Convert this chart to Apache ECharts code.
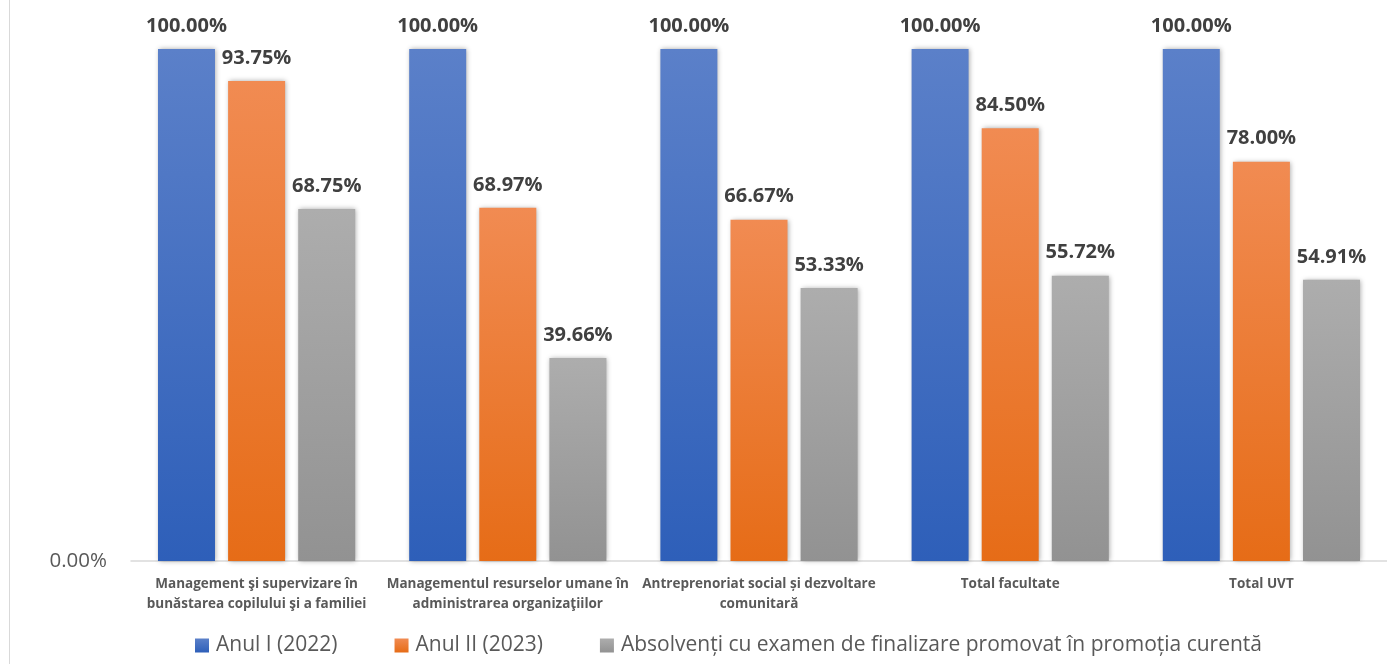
<!DOCTYPE html>
<html><head><meta charset="utf-8">
<script src="https://cdn.jsdelivr.net/npm/echarts@6/dist/echarts.min.js"></script>
<style>html,body{margin:0;padding:0;background:#fff}#c{width:1387px;height:664px}</style>
</head><body><div id="c"></div>
<script>
const categories = [
  "Management şi supervizare în\nbunăstarea copilului şi a familiei",
  "Managementul resurselor umane în\nadministrarea organizaţiilor",
  "Antreprenoriat social și dezvoltare\ncomunitară",
  "Total facultate",
  "Total UVT"
];
const seriesNames = ["Anul I (2022)", "Anul II (2023)", "Absolvenți cu examen de finalizare promovat în promoția curentă"];
const anulI = [100, 100, 100, 100, 100];
const anulII = [93.75, 68.97, 66.67, 84.50, 78.00];
const absolventi = [68.75, 39.66, 53.33, 55.72, 54.91];
const yTicks = [0, 100];

const grads = [
  ['#5b80c9', '#2e5fb9'],
  ['#f18b52', '#e66c17'],
  ['#adadad', '#929292']
];
function grad(c){ return new echarts.graphic.LinearGradient(0,0,0,1,[{offset:0,color:c[0]},{offset:1,color:c[1]}]); }
const font = '"Open Sans", sans-serif';
function mk(name, data, i){
  return {
    name, type:'bar', data, barWidth:57, barGap:'23%',
    itemStyle:{color:grad(grads[i]), shadowBlur:5, shadowColor:'rgba(0,0,0,0.35)', shadowOffsetX:1, shadowOffsetY:0},
    label:{show:true, position:'top', distance:13, color:'#404040', fontFamily:font, fontWeight:'bold', fontSize:20,
      formatter:p=>p.value.toFixed(2)+'%'}
  };
}
const chart = echarts.init(document.getElementById('c'));
chart.setOption({
  animation:false,
  color:[grads[0][1], grads[1][1], grads[2][1]],
  grid:{left:131, top:49, width:1260, height:512, containLabel:false},
  legend:{
    left:190, top:630, itemWidth:14, itemHeight:14, itemGap:57, icon:'rect',
    textStyle:{color:'#595959', fontFamily:font, fontSize:21, padding:[0,0,0,2]},
    data:seriesNames.map((n,i)=>({name:n, itemStyle:{color:grad(grads[i])}}))
  },
  xAxis:{type:'category', data:categories,
    axisLine:{lineStyle:{color:'#d9d9d9', width:1.5}}, axisTick:{show:false},
    axisLabel:{color:'#595959', fontFamily:font, fontWeight:'bold', fontSize:13.5, lineHeight:20, margin:13, interval:0}
  },
  yAxis:{type:'value', min:yTicks[0], max:yTicks[1], interval:100, splitLine:{show:false}, axisLine:{show:false}, axisTick:{show:false},
    axisLabel:{color:'#595959', fontFamily:font, fontSize:20.5, margin:24, formatter:v=>v===yTicks[0]?v.toFixed(2)+'%':''}
  },
  graphic:[{type:'line', shape:{x1:9.5,y1:0,x2:9.5,y2:664}, style:{stroke:'#d9d9d9', lineWidth:1}}],
  series:[mk(seriesNames[0], anulI, 0), mk(seriesNames[1], anulII, 1), mk(seriesNames[2], absolventi, 2)]
});
</script></body></html>
